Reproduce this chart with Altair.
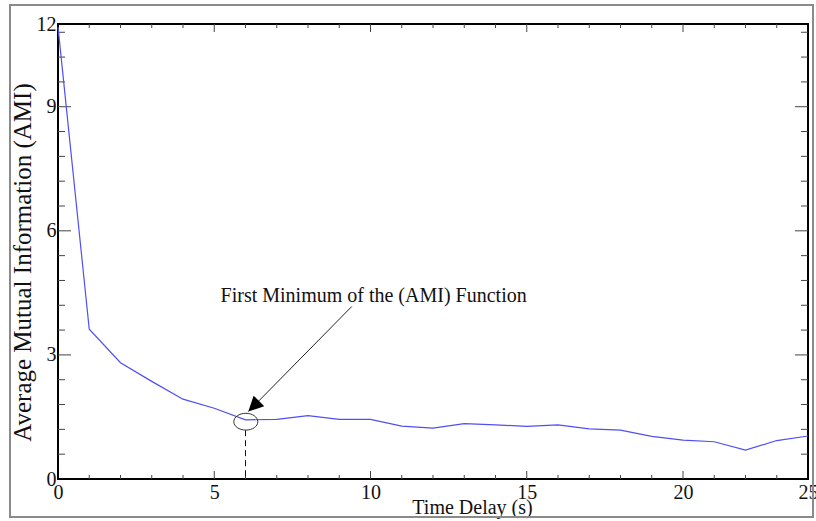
import altair as alt
import pandas as pd

# ---- data ----
delay = list(range(25))
ami = [10.93, 3.62, 2.81, 2.36, 1.93, 1.71, 1.43, 1.44, 1.53, 1.44, 1.44, 1.28, 1.23,
       1.34, 1.31, 1.27, 1.31, 1.21, 1.18, 1.03, 0.94, 0.90, 0.70, 0.93, 1.04]

x_major = [5, 10, 15, 20]
x_minor = [v for v in range(1, 24) if v % 5 != 0]
y_major = [3, 6, 9]
y_minor = [round(0.6 * k, 2) for k in range(1, 19) if k % 5 != 0]

x_label_values = [0, 5, 10, 15, 20, 24]
y_label_values = [0, 3, 6, 9, 11]

note_text = ["First Minimum of the (AMI) Function"]
note_pos = [10.1, 4.27]
arrow_start = [9.40, 4.17]
arrow_tip = [6.09, 1.63]
circle_center = [6.01, 1.385]
min_delay = [6]
dash_top = [1.18]

W, H = 750, 455
XD = [0, 24]
YD = [0, 11]
FONT = "Liberation Serif"

df = pd.DataFrame({"delay": delay, "ami": ami})
xs = alt.Scale(domain=XD, nice=False, zero=False)
ys = alt.Scale(domain=YD, nice=False, zero=False)

line = alt.Chart(df).mark_line(color="#4f4ff5", strokeWidth=1.2).encode(
    x=alt.X("delay:Q", scale=xs,
            axis=alt.Axis(values=x_label_values, title="Time Delay (s)", ticks=False, tickSize=0,
                          domain=False, grid=False, labelPadding=3, labelFlush=False,
                          labelOverlap=False,
                          labelExpr="datum.value == 24 ? '25' : datum.label",
                          titleX=414, titleY=34, titleBaseline="alphabetic", titleAlign="center",
                          titleAnchor="start", titleFontSize=20)),
    y=alt.Y("ami:Q", scale=ys,
            axis=alt.Axis(values=y_label_values, title="Average Mutual Information (AMI)",
                          ticks=False, tickSize=0, domain=False, grid=False, labelPadding=2,
                          labelFlush=False, labelOverlap=False,
                          labelExpr="datum.value == 11 ? '12' : datum.label",
                          titleX=-36, titleY=238, titleAngle=270, titleAlign="center",
                          titleBaseline="middle", titleAnchor="start", titleFontSize=25)),
)

def xticks(vals, length):
    d = pd.DataFrame({"t": vals})
    b = alt.Chart(d).mark_rule(color="#444", strokeWidth=1).encode(
        x=alt.X("t:Q", scale=xs), y=alt.value(H), y2=alt.value(H - length))
    t = alt.Chart(d).mark_rule(color="#444", strokeWidth=1).encode(
        x=alt.X("t:Q", scale=xs), y=alt.value(0), y2=alt.value(length))
    return b + t

def yticks(vals, length):
    d = pd.DataFrame({"t": vals})
    l = alt.Chart(d).mark_rule(color="#444", strokeWidth=1).encode(
        y=alt.Y("t:Q", scale=ys), x=alt.value(0), x2=alt.value(length))
    r = alt.Chart(d).mark_rule(color="#444", strokeWidth=1).encode(
        y=alt.Y("t:Q", scale=ys), x=alt.value(W), x2=alt.value(W - length))
    return l + r

ticks = xticks(x_major, 8) + xticks(x_minor, 4) + yticks(y_major, 13) + yticks(y_minor, 7)

ann = pd.DataFrame({
    "sx": [arrow_start[0]], "sy": [arrow_start[1]],
    "tx": [arrow_tip[0]], "ty": [arrow_tip[1]],
    "cx": [circle_center[0]], "cy": [circle_center[1]],
    "mx": [min_delay[0]], "my": [dash_top[0]],
    "nx": [note_pos[0]], "ny": [note_pos[1]], "text": note_text,
})

arrow_line = alt.Chart(ann).mark_rule(color="#222", strokeWidth=1).encode(
    x=alt.X("sx:Q", scale=xs), y=alt.Y("sy:Q", scale=ys),
    x2="tx:Q", y2="ty:Q")
arrow_head = alt.Chart(ann).mark_point(
    shape="M0,0L-0.5,1L0.5,1Z", size=900, angle=225, filled=True, color="#000",
    opacity=1, strokeWidth=0).encode(
    x=alt.X("tx:Q", scale=xs), y=alt.Y("ty:Q", scale=ys))
circle = alt.Chart(ann).mark_point(
    shape="M-1,0A1,0.7,0,1,0,1,0A1,0.7,0,1,0,-1,0Z", size=576, filled=False,
    color="#333", strokeWidth=1, opacity=1).encode(
    x=alt.X("cx:Q", scale=xs), y=alt.Y("cy:Q", scale=ys))
dash = alt.Chart(ann).mark_rule(color="#111", strokeWidth=1, strokeDash=[6, 4]).encode(
    x=alt.X("mx:Q", scale=xs), y=alt.Y("my:Q", scale=ys), y2=alt.datum(0))
note = alt.Chart(ann).mark_text(font=FONT, fontSize=20, color="#111", align="center",
                                baseline="alphabetic").encode(
    x=alt.X("nx:Q", scale=xs), y=alt.Y("ny:Q", scale=ys), text="text:N")

frame = alt.Chart(ann).mark_rect(fill=None, stroke="#8a8a8a", strokeWidth=2).encode(
    x=alt.value(-48), x2=alt.value(755), y=alt.value(-19), y2=alt.value(493))

chart = alt.layer(frame, ticks, line, dash, circle, arrow_line, arrow_head, note).properties(
    width=W, height=H,
    autosize=alt.AutoSizeParams(type="none"),
    padding={"left": 58, "top": 24, "right": 8, "bottom": 42},
    background="white",
).configure_view(stroke="#000", strokeWidth=2).configure_axis(
    labelFont=FONT, labelFontSize=20, labelColor="#111",
    titleFont=FONT, titleColor="#111", titleFontWeight="normal",
)

chart.save("out.html", embed_options={"renderer": "svg", "actions": False})
